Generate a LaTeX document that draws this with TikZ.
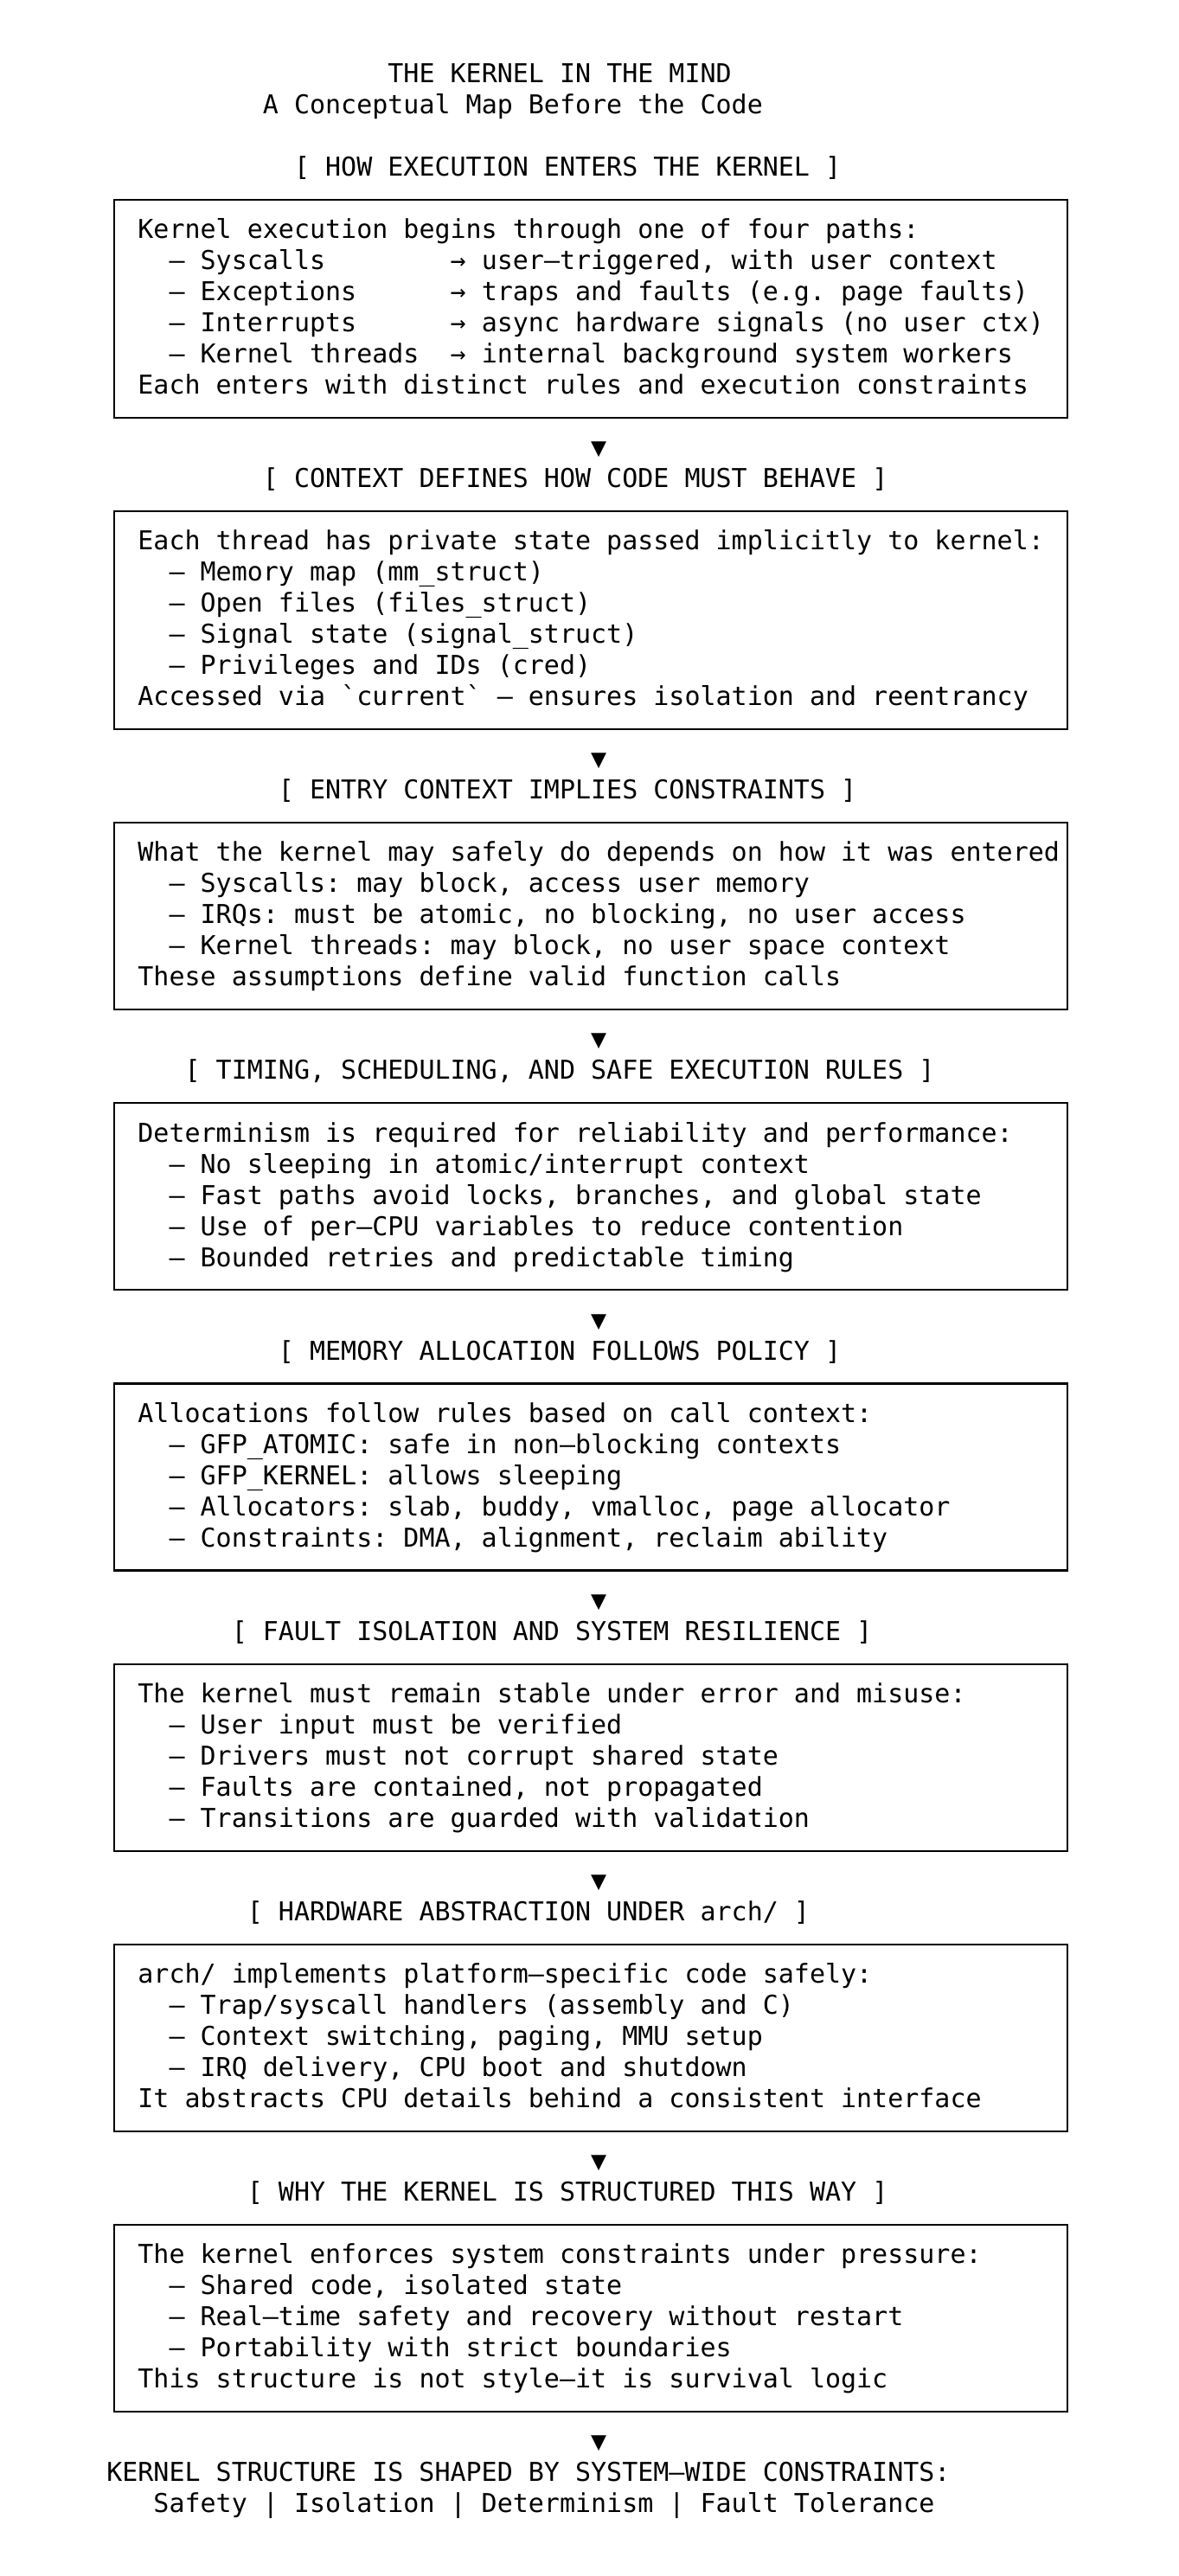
\documentclass[tikz,border=0pt]{standalone}
\usepackage{fontspec}
\setmonofont{DejaVu Sans Mono}
\begin{document}
\begin{tikzpicture}[x=9.0308pt, y=-18.01pt]
\tikzset{
  txt/.style={font=\ttfamily\fontsize{15}{18}\selectfont\frenchspacing, anchor=base west, inner sep=0pt, outer sep=0pt, yshift=-1.9pt},
  frame/.style={draw=black, line width=1.1pt, inner sep=0pt, outer sep=0pt, anchor=north west, minimum width=550.88pt, yshift=-0.7pt},
  frameA/.style={frame, minimum height=126.07pt},
  frameB/.style={frame, minimum height=108.06pt}
}
\useasboundingbox (-6.8266,-2.5403) rectangle (68.582,80.136);

% title
\node[txt] (t1) at (18,0) {THE KERNEL IN THE MIND};
\node[txt] (t2) at (10,1) {A Conceptual Map Before the Code};

% section 1
\node[txt] (h1) at (12,3) {[ HOW EXECUTION ENTERS THE KERNEL ]};
\node[frameA] (box1) at (0.5,3.825) {};
\node[txt] (b1l1) at (2,5) {Kernel execution begins through one of four paths:};
\node[txt] (b1l2) at (4,6) {– Syscalls};
\node[txt] (b1r2) at (22,6) {→ user–triggered, with user context};
\node[txt] (b1l3) at (4,7) {– Exceptions};
\node[txt] (b1r3) at (22,7) {→ traps and faults (e.g. page faults)};
\node[txt] (b1l4) at (4,8) {– Interrupts};
\node[txt] (b1r4) at (22,8) {→ async hardware signals (no user ctx)};
\node[txt] (b1l5) at (4,9) {– Kernel threads};
\node[txt] (b1r5) at (22,9) {→ internal background system workers};
\node[txt] (b1l6) at (2,10) {Each enters with distinct rules and execution constraints};
\node[txt] (a1) at (31,12) {▼};

% section 2
\node[txt] (h2) at (10,13) {[ CONTEXT DEFINES HOW CODE MUST BEHAVE ]};
\node[frameA] (box2) at (0.5,13.825) {};
\node[txt] (b2l1) at (2,15) {Each thread has private state passed implicitly to kernel:};
\node[txt] (b2l2) at (4,16) {– Memory map (mm\_struct)};
\node[txt] (b2l3) at (4,17) {– Open files (files\_struct)};
\node[txt] (b2l4) at (4,18) {– Signal state (signal\_struct)};
\node[txt] (b2l5) at (4,19) {– Privileges and IDs (cred)};
\node[txt] (b2l6) at (2,20) {Accessed via `current` – ensures isolation and reentrancy};
\node[txt] (a2) at (31,22) {▼};

% section 3
\node[txt] (h3) at (11,23) {[ ENTRY CONTEXT IMPLIES CONSTRAINTS ]};
\node[frameB] (box3) at (0.5,23.825) {};
\node[txt] (b3l1) at (2,25) {What the kernel may safely do depends on how it was entered};
\node[txt] (b3l2) at (4,26) {– Syscalls: may block, access user memory};
\node[txt] (b3l3) at (4,27) {– IRQs: must be atomic, no blocking, no user access};
\node[txt] (b3l4) at (4,28) {– Kernel threads: may block, no user space context};
\node[txt] (b3l5) at (2,29) {These assumptions define valid function calls};
\node[txt] (a3) at (31,31) {▼};

% section 4
\node[txt] (h4) at (5,32) {[ TIMING, SCHEDULING, AND SAFE EXECUTION RULES ]};
\node[frameB] (box4) at (0.5,32.825) {};
\node[txt] (b4l1) at (2,34) {Determinism is required for reliability and performance:};
\node[txt] (b4l2) at (4,35) {– No sleeping in atomic/interrupt context};
\node[txt] (b4l3) at (4,36) {– Fast paths avoid locks, branches, and global state};
\node[txt] (b4l4) at (4,37) {– Use of per–CPU variables to reduce contention};
\node[txt] (b4l5) at (4,38) {– Bounded retries and predictable timing};
\node[txt] (a4) at (31,40) {▼};

% section 5
\node[txt] (h5) at (11,41) {[ MEMORY ALLOCATION FOLLOWS POLICY ]};
\node[frameB] (box5) at (0.5,41.825) {};
\node[txt] (b5l1) at (2,43) {Allocations follow rules based on call context:};
\node[txt] (b5l2) at (4,44) {– GFP\_ATOMIC: safe in non–blocking contexts};
\node[txt] (b5l3) at (4,45) {– GFP\_KERNEL: allows sleeping};
\node[txt] (b5l4) at (4,46) {– Allocators: slab, buddy, vmalloc, page allocator};
\node[txt] (b5l5) at (4,47) {– Constraints: DMA, alignment, reclaim ability};
\node[txt] (a5) at (31,49) {▼};

% section 6
\node[txt] (h6) at (8,50) {[ FAULT ISOLATION AND SYSTEM RESILIENCE ]};
\node[frameB] (box6) at (0.5,50.825) {};
\node[txt] (b6l1) at (2,52) {The kernel must remain stable under error and misuse:};
\node[txt] (b6l2) at (4,53) {– User input must be verified};
\node[txt] (b6l3) at (4,54) {– Drivers must not corrupt shared state};
\node[txt] (b6l4) at (4,55) {– Faults are contained, not propagated};
\node[txt] (b6l5) at (4,56) {– Transitions are guarded with validation};
\node[txt] (a6) at (31,58) {▼};

% section 7
\node[txt] (h7) at (9,59) {[ HARDWARE ABSTRACTION UNDER arch/ ]};
\node[frameB] (box7) at (0.5,59.825) {};
\node[txt] (b7l1) at (2,61) {arch/ implements platform–specific code safely:};
\node[txt] (b7l2) at (4,62) {– Trap/syscall handlers (assembly and C)};
\node[txt] (b7l3) at (4,63) {– Context switching, paging, MMU setup};
\node[txt] (b7l4) at (4,64) {– IRQ delivery, CPU boot and shutdown};
\node[txt] (b7l5) at (2,65) {It abstracts CPU details behind a consistent interface};
\node[txt] (a7) at (31,67) {▼};

% section 8
\node[txt] (h8) at (9,68) {[ WHY THE KERNEL IS STRUCTURED THIS WAY ]};
\node[frameB] (box8) at (0.5,68.825) {};
\node[txt] (b8l1) at (2,70) {The kernel enforces system constraints under pressure:};
\node[txt] (b8l2) at (4,71) {– Shared code, isolated state};
\node[txt] (b8l3) at (4,72) {– Real–time safety and recovery without restart};
\node[txt] (b8l4) at (4,73) {– Portability with strict boundaries};
\node[txt] (b8l5) at (2,74) {This structure is not style–it is survival logic};
\node[txt] (a8) at (31,76) {▼};

% conclusion
\node[txt] (f1) at (0,77) {KERNEL STRUCTURE IS SHAPED BY SYSTEM–WIDE CONSTRAINTS:};
\node[txt] (f2) at (3,78) {Safety | Isolation | Determinism | Fault Tolerance};
\end{tikzpicture}
\end{document}
